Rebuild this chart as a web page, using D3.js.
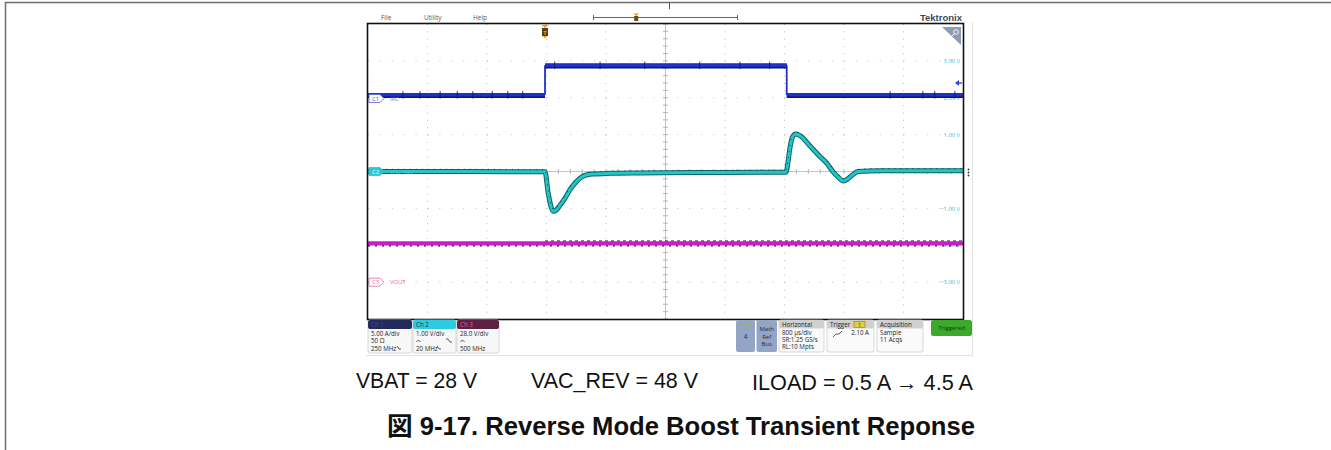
<!DOCTYPE html>
<html>
<head>
<meta charset="utf-8">
<script src="https://cdn.jsdelivr.net/npm/d3@7"></script>
<style>
  html, body { margin: 0; padding: 0; background: #fff; }
  svg { display: block; }
</style>
</head>
<body>
<svg id="chart" width="1331" height="450"></svg>
<script>
// ---- acquisition data (time in ms, relative to the trigger point) ----
const timeRange = [-2.38, 5.62];          // 10 divisions x 800 us/div

// Ch1: load current IAC (A)
const ch1Time = [-2.38, 0, 0, 3.25, 3.25, 5.62];
const ch1Amps = [0.5, 0.5, 4.5, 4.5, 0.5, 0.5];
const ch1Glitch = [-1.91, -1.68, -1.41, -1.18, -0.97, -0.71, -0.50, -0.30,
                   0.13, 0.74, 1.34, 2.08, 2.62, 3.02, 4.64, 5.08, 5.24, 5.51];

// Ch2: VAC_REV deviation (V, AC coupled)
const ch2Time = [-2.38, -1.0, 0.0, 0.04, 0.08, 0.113, 0.15, 0.20, 0.27, 0.34, 0.42,
                 0.51, 0.63, 0.87, 1.28, 2.08, 3.24, 3.27, 3.29, 3.33, 3.37, 3.43,
                 3.56, 3.70, 3.79, 3.87, 3.94, 4.01, 4.07, 4.14, 4.21, 4.50, 5.62];
const ch2Volts = [0.0, 0.0, -0.01, -0.55, -0.95, -1.08, -1.05, -0.92, -0.72, -0.48, -0.28,
                  -0.13, -0.07, -0.05, -0.04, -0.03, -0.02, 0.30, 0.60, 0.95, 1.02, 0.97,
                  0.70, 0.40, 0.22, 0.0, -0.15, -0.26, -0.20, -0.08, 0.0, 0.02, 0.02];

// Ch3: VOUT (V)
const ch3Time = [-2.38, 5.62];
const ch3Volts = [29.5, 29.5];

// Vertical settings: units per division and marker position (div from centre)
const ch1Scale = 5.0,  ch1Pos = 1.98;
const ch2Scale = 1.0,  ch2Pos = 0;
const ch3Scale = 28.0, ch3Pos = -3;
const triggerLevel = 2.10;   // A on Ch1

// Right-edge graticule readout (Ch2 scale)
const readoutDivs = [3, 2, 1, -1, -2, -3];

// Bottom status badges
const chanBadges = [
  { name: "Ch 1", lines: ["5.00 A/div", "50 \u03a9", "250 MHz"], head: "#232a5c", headText: "#3b4ba6" },
  { name: "Ch 2", lines: ["1.00 V/div", "", "20 MHz"], head: "#2ccbe0", headText: "#0b3d47" },
  { name: "Ch 3", lines: ["28.0 V/div", "", "500 MHz"], head: "#5c2142", headText: "#e2609e" }
];
const infoBoxes = [
  { name: "Horizontal", lines: ["800 \u00b5s/div", "SR:1.25 GS/s", "RL:10 Mpts"] },
  { name: "Trigger", lines: ["", "", ""] },
  { name: "Acquisition", lines: ["Sample", "11 Acqs", ""] }
];
const menuItems = ["File", "Utility", "Help"];

// ---- layout ----
const svg = d3.select("#chart");
const X0 = 368, X1 = 963, Y0 = 24, Y1 = 319;
const x = d3.scaleLinear().domain(timeRange).range([X0, X1]);
const xDiv = d3.scaleLinear().domain([0, 10]).range([X0, X1]);
const yDiv = d3.scaleLinear().domain([-4, 4]).range([Y1, Y0]);
const chY = (v, perDiv, pos) => yDiv(pos + v / perDiv);
const y1 = v => chY(v, ch1Scale, ch1Pos);
const y2 = v => chY(v, ch2Scale, ch2Pos);
const y3 = v => chY(v, ch3Scale, ch3Pos);
const uiFont = "'Open Sans', 'Noto Sans', sans-serif";

// page frame
svg.append("line").attr("x1", 5).attr("x2", 1331).attr("y1", 2.5).attr("y2", 2.5)
  .attr("stroke", "#6e6e6e").attr("stroke-width", 1.5);
svg.append("line").attr("x1", 5.5).attr("x2", 5.5).attr("y1", 2).attr("y2", 450)
  .attr("stroke", "#6e6e6e").attr("stroke-width", 1.5);
svg.append("line").attr("x1", 669.5).attr("x2", 669.5).attr("y1", 2).attr("y2", 9)
  .attr("stroke", "#555").attr("stroke-width", 1);

// screen panel edges
svg.append("line").attr("x1", 972.5).attr("x2", 972.5).attr("y1", 22).attr("y2", 355)
  .attr("stroke", "#e2e2e2");
svg.append("line").attr("x1", 366).attr("x2", 973).attr("y1", 355.5).attr("y2", 355.5)
  .attr("stroke", "#e2e2e2");

// menu bar
const menuX = [381, 424, 473];
svg.selectAll("text.menu").data(menuItems).join("text")
  .attr("class", "menu").attr("x", (d, i) => menuX[i]).attr("y", 20)
  .attr("font-family", uiFont).attr("font-size", 6.5).attr("fill", "#555").text(d => d);

// record view bar
svg.append("line").attr("x1", 593).attr("x2", 737).attr("y1", 17.5).attr("y2", 17.5)
  .attr("stroke", "#666").attr("stroke-width", 1);
[593, 737].forEach(px => svg.append("line").attr("x1", px + 0.5).attr("x2", px + 0.5)
  .attr("y1", 15).attr("y2", 20).attr("stroke", "#666"));
const recX = 593 + 0.3 * 144;
svg.append("path").attr("d", `M${recX - 3},13.5 L${recX + 3},13.5 L${recX},16 Z`).attr("fill", "#f0961c");
svg.append("rect").attr("x", recX - 2).attr("y", 16).attr("width", 4).attr("height", 5).attr("fill", "#6a4a14");

// Tektronix logo
svg.append("text").attr("x", 962).attr("y", 21).attr("text-anchor", "end")
  .attr("font-family", "'Liberation Sans', Arial, sans-serif").attr("font-weight", "bold")
  .attr("font-size", 9.5).attr("fill", "#3d4a5a").text("Tektronix");

// ---- graticule ----
const grid = svg.append("g");
grid.append("rect").attr("x", X0).attr("y", Y0).attr("width", X1 - X0).attr("height", Y1 - Y0)
  .attr("fill", "#fff");
d3.range(1, 10).filter(i => i !== 5).forEach(i => {
  grid.append("line").attr("x1", xDiv(i)).attr("x2", xDiv(i)).attr("y1", Y0).attr("y2", Y1)
    .attr("stroke", "#bdbdbd").attr("stroke-width", 1).attr("stroke-dasharray", "1,6.375");
});
d3.range(-3, 4).filter(j => j !== 0).forEach(j => {
  grid.append("line").attr("x1", X0).attr("x2", X1).attr("y1", yDiv(j)).attr("y2", yDiv(j))
    .attr("stroke", "#bdbdbd").attr("stroke-width", 1).attr("stroke-dasharray", "1,10.9");
});
// centre crosshair with minor ticks
const cx = xDiv(5), cy = yDiv(0);
grid.append("line").attr("x1", cx).attr("x2", cx).attr("y1", Y0).attr("y2", Y1)
  .attr("stroke", "#c4c4c4").attr("stroke-width", 1);
grid.append("line").attr("x1", X0).attr("x2", X1).attr("y1", cy).attr("y2", cy)
  .attr("stroke", "#c4c4c4").attr("stroke-width", 1);
d3.range(-4, 4.01, 0.2).forEach(d => {
  grid.append("line").attr("x1", cx - 2.5).attr("x2", cx + 2.5).attr("y1", yDiv(d)).attr("y2", yDiv(d))
    .attr("stroke", "#b5b5b5");
});
d3.range(0, 10.01, 0.2).forEach(d => {
  grid.append("line").attr("x1", xDiv(d)).attr("x2", xDiv(d)).attr("y1", cy - 2.5).attr("y2", cy + 2.5)
    .attr("stroke", "#b5b5b5");
});

// right readout labels
svg.selectAll("text.readout").data(readoutDivs).join("text")
  .attr("class", "readout").attr("x", X1 - 3).attr("y", d => y2(d * ch2Scale) + 2.2)
  .attr("text-anchor", "end").attr("font-family", uiFont).attr("font-size", 5.8)
  .attr("fill", "#2cc3d3").text(d => d3.format(".2f")(d) + " V");

// zoom corner
svg.append("path").attr("d", `M${X1 - 21},27 L${X1 - 2},27 L${X1 - 2},45 Z`).attr("fill", "#8e9bb3");
svg.append("circle").attr("cx", X1 - 7).attr("cy", 32).attr("r", 2.3).attr("fill", "none")
  .attr("stroke", "#fff").attr("stroke-width", 0.9);
svg.append("line").attr("x1", X1 - 8.7).attr("y1", 33.7).attr("x2", X1 - 12).attr("y2", 37)
  .attr("stroke", "#fff").attr("stroke-width", 1);

// ---- traces ----
const traces = svg.append("g");
const toPts = (ts, vs) => ts.map((t, i) => ({ t, v: vs[i] }));

// Ch3 VOUT
const line3 = d3.line().x(d => x(d.t)).y(d => y3(d.v));
const p3 = toPts(ch3Time, ch3Volts);
traces.append("path").attr("d", line3(p3)).attr("fill", "none")
  .attr("stroke", "#c81ec8").attr("stroke-width", 4.2);
traces.append("path").attr("d", line3(p3)).attr("fill", "none").attr("transform", "translate(0,2.6)")
  .attr("stroke", "#4a1044").attr("stroke-width", 1.2).attr("stroke-dasharray", "2,5");
traces.append("path").attr("d", line3(toPts([0, timeRange[1]], [ch3Volts[0], ch3Volts[1]])))
  .attr("fill", "none").attr("transform", "translate(0,-2.4)")
  .attr("stroke", "#4a1044").attr("stroke-width", 0.9).attr("stroke-dasharray", "3,3");

// Ch2 VAC_REV
const line2 = d3.line().x(d => x(d.t)).y(d => y2(d.v)).curve(d3.curveMonotoneX);
const p2 = toPts(ch2Time, ch2Volts);
traces.append("path").attr("d", line2(p2)).attr("fill", "none")
  .attr("stroke", "#0b6466").attr("stroke-width", 5).attr("stroke-linejoin", "round");
traces.append("path").attr("d", line2(p2)).attr("fill", "none")
  .attr("stroke", "#25c4c6").attr("stroke-width", 3).attr("stroke-linejoin", "round");
traces.append("path").attr("d", line2(p2)).attr("fill", "none").attr("transform", "translate(0,-2.2)")
  .attr("stroke", "#0a4f50").attr("stroke-width", 1).attr("stroke-dasharray", "1,5");

// Ch1 IAC: flat runs drawn heavy, switching edges drawn thin
const line1 = d3.line().x(d => x(d.t)).y(d => y1(d.v));
const p1 = toPts(ch1Time, ch1Amps);
const runs = [], edges = [];
for (let i = 0; i < p1.length - 1; i++) {
  (p1[i].t === p1[i + 1].t ? edges : runs).push([p1[i], p1[i + 1]]);
}
edges.forEach(s => traces.append("path").attr("d", line1(s)).attr("fill", "none")
  .attr("stroke", "#1f31c8").attr("stroke-width", 1.8));
runs.forEach(s => {
  traces.append("path").attr("d", line1(s)).attr("fill", "none").attr("transform", "translate(0,0.8)")
    .attr("stroke", "#0c1670").attr("stroke-width", 5);
  traces.append("path").attr("d", line1(s)).attr("fill", "none")
    .attr("stroke", "#1f31c8").attr("stroke-width", 3.6);
});
const ch1At = t => (t >= 0 && t < 3.25) ? ch1Amps[2] : ch1Amps[0];
traces.selectAll("line.g1").data(ch1Glitch).join("line").attr("class", "g1")
  .attr("x1", d => x(d)).attr("x2", d => x(d))
  .attr("y1", d => y1(ch1At(d)) - 3.6).attr("y2", d => y1(ch1At(d)) + 3.8)
  .attr("stroke", "#0c1670").attr("stroke-width", 0.9);

// ---- channel markers ----
function marker(ypos, label, name, stroke, fill, textFill, nameFill) {
  const g = svg.append("g");
  g.append("path").attr("d", `M${X0 + 1},${ypos - 4} L${X0 + 12},${ypos - 4} L${X0 + 16},${ypos} L${X0 + 12},${ypos + 4} L${X0 + 1},${ypos + 4} Z`)
    .attr("fill", fill).attr("stroke", stroke).attr("stroke-width", 0.8);
  g.append("text").attr("x", X0 + 4).attr("y", ypos + 2.2).attr("font-family", uiFont)
    .attr("font-size", 5.8).attr("fill", textFill).text(label);
  g.append("text").attr("x", X0 + 22).attr("y", ypos + 2.2).attr("font-family", uiFont)
    .attr("font-size", 5.8).attr("fill", nameFill).text(name);
}
marker(y1(0), "C1", "IAC", "#5563e0", "#fff", "#4352d8", "#6f7ce8");
marker(y2(0), "C2", "VAC_REV", "#27c7d3", "#27c7d3", "#fff", "#35c9d6");
marker(y3(0), "C3", "VOUT", "#e3649c", "#fff", "#e3649c", "#e3649c");

// trigger position marker
const tx = x(0);
svg.append("path").attr("d", `M${tx - 3.5},25 L${tx + 3.5},25 L${tx},28 Z`).attr("fill", "#f0961c");
svg.append("rect").attr("x", tx - 3).attr("y", 28).attr("width", 6).attr("height", 8).attr("fill", "#5e3c10");
svg.append("text").attr("x", tx).attr("y", 34.5).attr("text-anchor", "middle").attr("font-family", uiFont)
  .attr("font-size", 6).attr("font-weight", "bold").attr("fill", "#f0a02a").text("T");
svg.append("path").attr("d", `M${tx - 2},36 L${tx + 2},36 L${tx},38.5 Z`).attr("fill", "#f0961c");

// trigger level arrow
const ty = y1(triggerLevel);
svg.append("path").attr("d", `M${X1 - 8},${ty} L${X1 - 4},${ty - 3} L${X1 - 4},${ty + 3} Z`).attr("fill", "#3545e0");
svg.append("line").attr("x1", X1 - 5).attr("x2", X1 - 1).attr("y1", ty).attr("y2", ty)
  .attr("stroke", "#3545e0").attr("stroke-width", 1.4);

// plot border
svg.append("rect").attr("x", X0 - 0.5).attr("y", Y0 - 0.5).attr("width", X1 - X0 + 1).attr("height", Y1 - Y0 + 1)
  .attr("fill", "none").attr("stroke", "#111").attr("stroke-width", 1.6);

// side menu handle
[169.5, 172.5, 175.5].forEach(yy => svg.append("circle").attr("cx", 968.5).attr("cy", yy).attr("r", 0.9).attr("fill", "#333"));

// ---- status badges ----
const badgeX = [368, 413, 457], badgeW = [44, 43, 42];
chanBadges.forEach((b, i) => {
  const g = svg.append("g").attr("transform", `translate(${badgeX[i]},320)`);
  g.append("rect").attr("width", badgeW[i]).attr("height", 33).attr("rx", 2)
    .attr("fill", "#f7f7f7").attr("stroke", "#c8c8c8").attr("stroke-width", 0.7);
  g.append("rect").attr("width", badgeW[i]).attr("height", 9).attr("rx", 2).attr("fill", b.head);
  g.append("text").attr("x", 3).attr("y", 7).attr("font-family", uiFont).attr("font-size", 6.2)
    .attr("fill", b.headText).text(b.name);
  b.lines.forEach((ln, k) => g.append("text").attr("x", 3).attr("y", 16 + k * 7.3)
    .attr("font-family", uiFont).attr("font-size", 6.2).attr("fill", "#222").text(ln));
  if (i > 0) {
    g.append("path").attr("d", "M3.5,22 Q5.5,18.5 7.5,22").attr("fill", "none").attr("stroke", "#333").attr("stroke-width", 0.8);
  }
  if (i === 1) {
    g.append("path").attr("d", "M33,19 L35,19 L37,22 L39,22").attr("fill", "none").attr("stroke", "#333").attr("stroke-width", 0.8);
  }
  if (i < 2) {
    const bx = i === 0 ? 29 : 24;
    g.append("path").attr("d", `M${bx},26 L${bx + 2},29 L${bx + 4},29`).attr("fill", "none").attr("stroke", "#333").attr("stroke-width", 0.8);
  }
});

// control buttons
const btnFill = "#94a4c4";
svg.append("rect").attr("x", 736).attr("y", 320).attr("width", 19).attr("height", 32).attr("rx", 2.5).attr("fill", btnFill);
svg.append("line").attr("x1", 740).attr("x2", 751).attr("y1", 324).attr("y2", 324).attr("stroke", "#7fc44a").attr("stroke-width", 1.2);
svg.append("text").attr("x", 745.5).attr("y", 339).attr("text-anchor", "middle").attr("font-family", uiFont)
  .attr("font-size", 6.2).attr("fill", "#1d2a50").text("4");
svg.append("rect").attr("x", 756.5).attr("y", 320).attr("width", 20.5).attr("height", 32).attr("rx", 2.5).attr("fill", btnFill);
["Math", "Ref", "Bus"].forEach((t, k) => svg.append("text").attr("x", 766.7).attr("y", 331 + k * 7.5)
  .attr("text-anchor", "middle").attr("font-family", uiFont).attr("font-size", 6).attr("fill", "#1d2a50").text(t));

const infoX = [779, 827, 877], infoW = [45, 47, 46];
infoBoxes.forEach((b, i) => {
  const g = svg.append("g").attr("transform", `translate(${infoX[i]},320)`);
  g.append("rect").attr("width", infoW[i]).attr("height", 32).attr("rx", 2)
    .attr("fill", "#fafafa").attr("stroke", "#c6c6c6").attr("stroke-width", 0.7);
  g.append("rect").attr("width", infoW[i]).attr("height", 8.5).attr("rx", 2).attr("fill", "#d0d0d0");
  g.append("text").attr("x", 3).attr("y", 6.6).attr("font-family", uiFont).attr("font-size", 6.2)
    .attr("fill", "#222").text(b.name);
  b.lines.forEach((ln, k) => g.append("text").attr("x", 3).attr("y", 14.5 + k * 7.2)
    .attr("font-family", uiFont).attr("font-size", 6.2).attr("fill", "#222").text(ln));
});
// trigger details
svg.append("rect").attr("x", 854).attr("y", 321.5).attr("width", 11).attr("height", 6).attr("fill", "#e3cf3c")
  .attr("stroke", "#8c7a12").attr("stroke-width", 0.6);
svg.append("text").attr("x", 859.5).attr("y", 326.8).attr("text-anchor", "middle").attr("font-family", uiFont)
  .attr("font-size", 5.5).attr("fill", "#3a3000").text("1");
svg.append("path").attr("d", "M833,337 L836,334 L839,334 L842,331").attr("fill", "none").attr("stroke", "#333").attr("stroke-width", 0.8);
svg.append("text").attr("x", 869).attr("y", 334.5).attr("text-anchor", "end").attr("font-family", uiFont)
  .attr("font-size", 6.2).attr("fill", "#222").text(d3.format(".2f")(triggerLevel) + " A");

// run state
svg.append("rect").attr("x", 931).attr("y", 320).attr("width", 41).attr("height", 16).attr("rx", 2.5).attr("fill", "#3aa92c");
svg.append("text").attr("x", 951.5).attr("y", 330.3).attr("text-anchor", "middle").attr("font-family", uiFont)
  .attr("font-size", 6).attr("fill", "#163a0c").text("Triggered");

// ---- captions ----
const capFont = "'Liberation Sans', Arial, 'Noto Sans CJK JP', sans-serif";
const conditions = [
  { text: "VBAT = 28 V", x: 356, y: 388, w: 121 },
  { text: "VAC_REV = 48 V", x: 531, y: 388, w: 167 },
  { text: "ILOAD = 0.5 A \u2192 4.5 A", x: 752, y: 390, w: 221 }
];
conditions.forEach(c => svg.append("text").attr("x", c.x).attr("y", c.y)
  .attr("font-family", capFont).attr("font-size", 22).attr("fill", "#111")
  .attr("textLength", c.w).attr("lengthAdjust", "spacingAndGlyphs").text(c.text));
svg.append("text").attr("x", 387).attr("y", 435).attr("font-family", capFont)
  .attr("font-size", 25).attr("font-weight", "bold").attr("fill", "#111")
  .attr("textLength", 588).attr("lengthAdjust", "spacingAndGlyphs")
  .text("\u56f3 9-17. Reverse Mode Boost Transient Reponse");
</script>
</body>
</html>
